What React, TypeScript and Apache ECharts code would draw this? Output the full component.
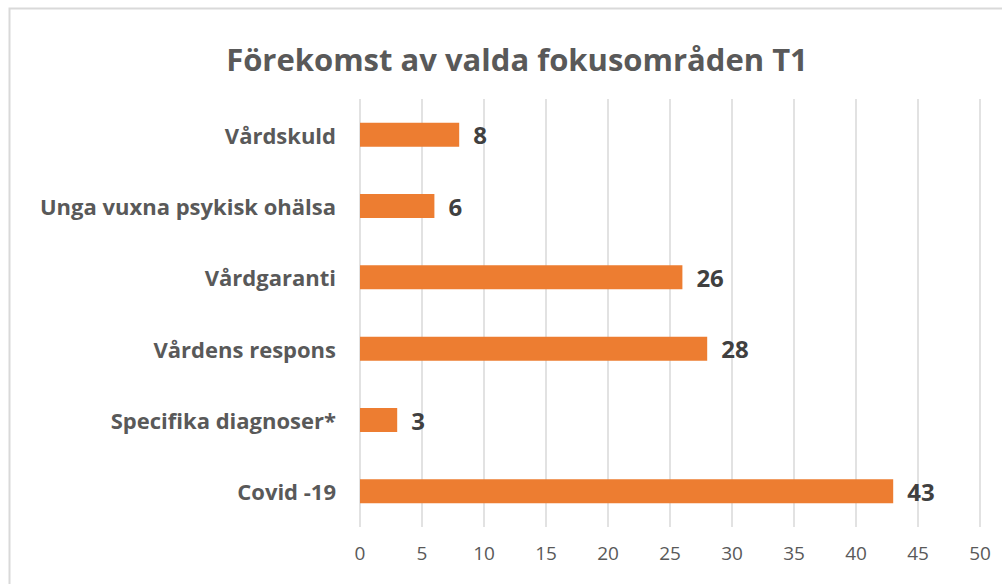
import React, { useEffect, useRef } from "react";
import * as echarts from "echarts";

const titleText = "Förekomst av valda fokusområden T1";
const categories = [
  "Covid -19",
  "Specifika diagnoser*",
  "Vårdens respons",
  "Vårdgaranti",
  "Unga vuxna psykisk ohälsa",
  "Vårdskuld",
];
const values = [43, 3, 28, 26, 6, 8];
const xMin = 0;
const xMax = 50;
const xInterval = 5;

const FONT = "'Open Sans', sans-serif";

export default function App() {
  const ref = useRef<HTMLDivElement>(null);
  useEffect(() => {
    if (!ref.current) return;
    const chart = echarts.init(ref.current, undefined, { renderer: "svg" });
    chart.setOption({
      animation: false,
      backgroundColor: "#ffffff",
      textStyle: { fontFamily: FONT },
      title: {
        text: titleText,
        left: 512,
        top: 38,
        textAlign: "center",
        textStyle: {
          fontFamily: FONT,
          fontSize: 31,
          fontWeight: "bold",
          color: "#595959",
        },
      },
      graphic: [
        {
          type: "rect",
          shape: { x: 9.5, y: 8.5, width: 1100, height: 700 },
          style: { fill: "none", stroke: "#d9d9d9", lineWidth: 2 },
          silent: true,
        },
      ],
      grid: { left: 360, right: 22, top: 99, bottom: 57, containLabel: false },
      xAxis: {
        type: "value",
        min: xMin,
        max: xMax,
        interval: xInterval,
        axisLine: { show: false },
        axisTick: { show: false },
        splitLine: { show: true, lineStyle: { color: "#d9d9d9", width: 1.5 } },
        axisLabel: {
          margin: 16,
          fontFamily: FONT,
          fontSize: 19,
          color: "#595959",
        },
      },
      yAxis: {
        type: "category",
        data: categories,
        axisLine: { show: false },
        axisTick: { show: false },
        axisLabel: {
          margin: 24,
          fontFamily: FONT,
          fontSize: 22,
          fontWeight: "bold",
          color: "#595959",
        },
      },
      series: [
        {
          type: "bar",
          data: values,
          barWidth: 24,
          itemStyle: { color: "#ED7D31" },
          label: {
            show: true,
            position: "right",
            distance: 14,
            fontFamily: FONT,
            fontSize: 24,
            fontWeight: "bold",
            color: "#404040",
          },
        },
      ],
    });
    return () => chart.dispose();
  }, []);
  return (
    <div
      ref={ref}
      style={{ position: "fixed", left: 0, top: 0, width: 1002, height: 584 }}
    />
  );
}
